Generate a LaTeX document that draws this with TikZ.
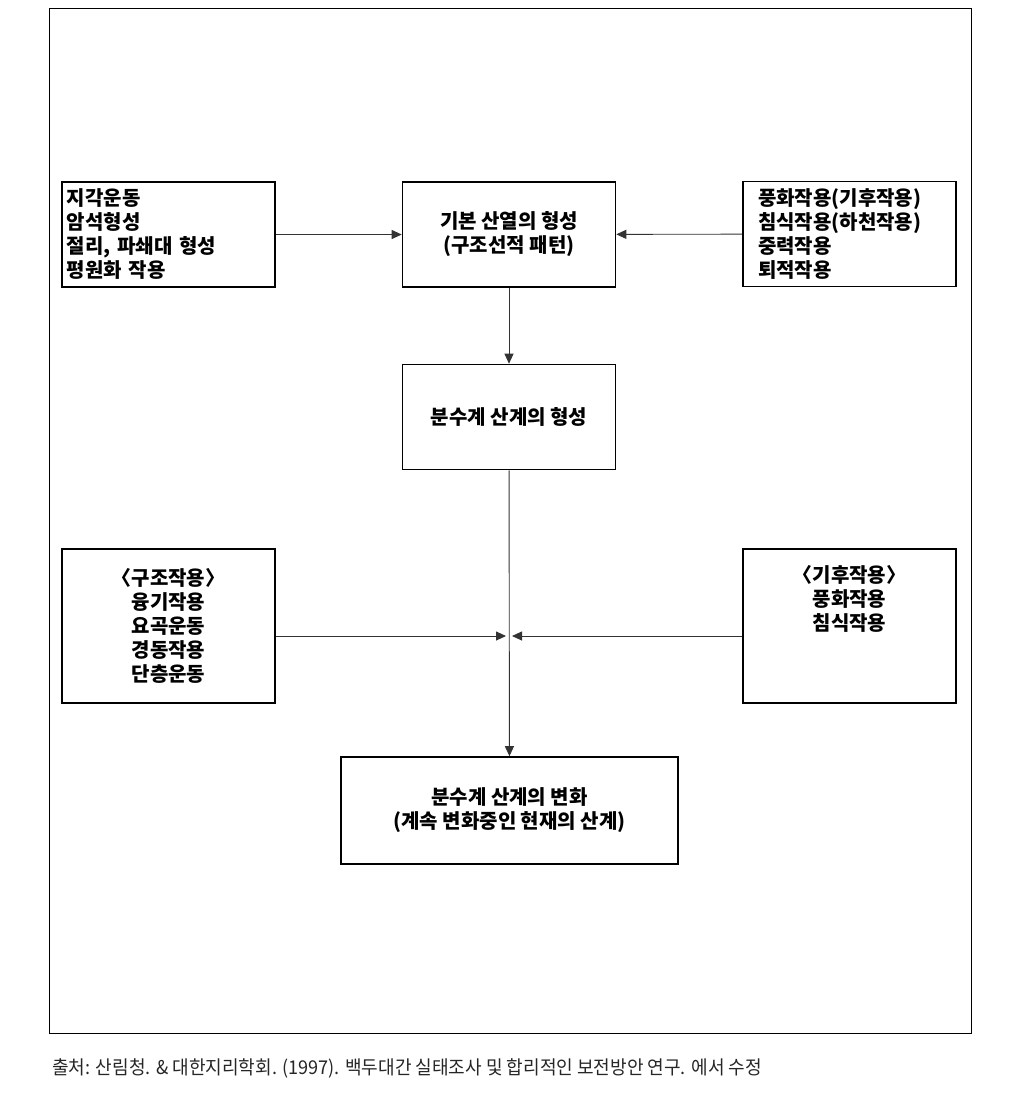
\documentclass[tikz,border=0pt]{standalone}
\usepackage{fontspec}
\setmainfont{Noto Sans CJK KR}
\usetikzlibrary{arrows.meta,positioning}

\begin{document}
\begin{tikzpicture}[x=0.5pt,y=-0.5pt,
    box/.style={draw,line width=0.8pt,minimum width=106.5pt,minimum height=52.5pt,inner sep=0pt,
      font=\fontsize{10}{12}\selectfont\bfseries,align=center},
    link/.style={draw=black!80,line width=0.45pt,-{Triangle[length=5pt,width=4.5pt]}}]
  \useasboundingbox (0,0) rectangle (1031,1100);
  \draw[line width=0.5pt] (49,8) rectangle (971,1033);
  % upper row
  \node[box,align=left,text width=101.5pt] (lt) at (168.5,234.5) {지각운동\\암석형성\\절리, 파쇄대 형성\\평원화 작용};
  \node[box] (base) at (509,234.5) {기본 산열의 형성\\(구조선적 패턴)};
  \node[box,align=left,text width=91.5pt] (rt) at (849.5,234) {풍화작용(기후작용)\\침식작용(하천작용)\\중력작용\\퇴적작용};
  \node[box] (div) at (509,417) {분수계 산계의 형성};
  % middle row
  \node[box,minimum height=77pt] (lm) at (168.5,626) {〈구조작용〉\\융기작용\\요곡운동\\경동작용\\단층운동};
  \node[box,minimum height=77pt] (rm) at (849.5,626) {};
  \node[font=\fontsize{10}{12}\selectfont\bfseries,align=center,anchor=north,inner sep=0pt] (rmtext) at (849.5,565) {〈기후작용〉\\풍화작용\\침식작용};
  \node[box,minimum width=168.5pt,minimum height=53.5pt] (fin) at (509.5,810.5) {분수계 산계의 변화\\(계속 변화중인 현재의 산계)};
  \coordinate (j) at (509,636);
  % connectors
  \draw[link] (lt) -- (base);
  \draw[link] (rt) -- (base);
  \draw[link] (base) -- (div);
  \draw[link] (div) -- (fin);
  \draw[link] (lt.east |- j) -- ([xshift=-1.5]j);
  \draw[link] (rm.west |- j) -- ([xshift=1.5]j);
  % source
  \node[anchor=west,inner sep=0pt,xscale=0.95,text=black!85,font=\fontsize{9.5}{11}\selectfont] (src) at (52,1068)
    {출처: 산림청. \& 대한지리학회. (1997). 백두대간 실태조사 및 합리적인 보전방안 연구. 에서 수정};
\end{tikzpicture}
\end{document}
